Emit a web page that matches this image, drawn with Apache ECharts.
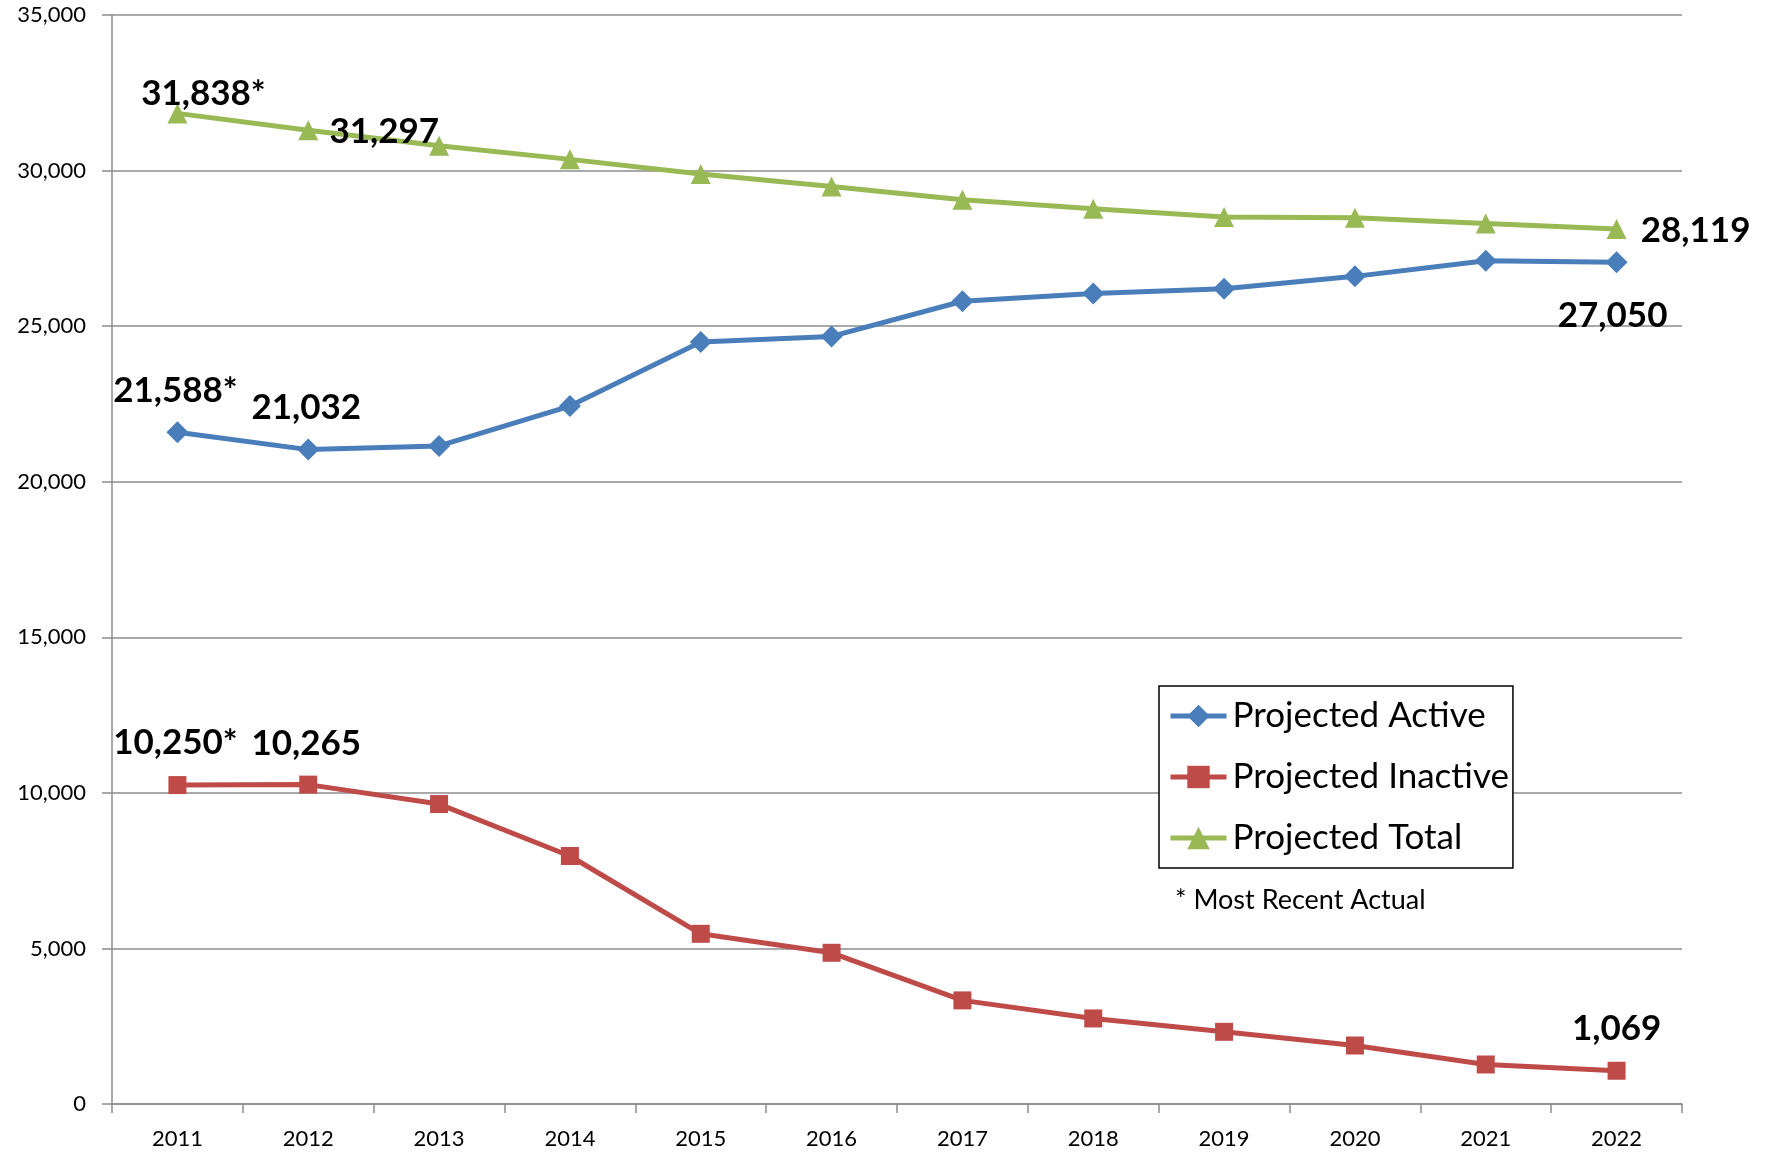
<!DOCTYPE html>
<html>
<head>
<meta charset="utf-8">
<script src="https://cdn.jsdelivr.net/npm/echarts@6/dist/echarts.min.js"></script>
<style>
html,body{margin:0;padding:0;background:#fff;}
#chart{width:1766px;height:1156px;}
</style>
</head>
<body>
<div id="chart"></div>
<script>
const years = ['2011','2012','2013','2014','2015','2016','2017','2018','2019','2020','2021','2022'];
const activeValues = [21588, 21032, 21150, 22430, 24490, 24670, 25800, 26050, 26200, 26600, 27100, 27050];
const inactiveValues = [10250, 10265, 9640, 7970, 5470, 4860, 3330, 2750, 2320, 1880, 1270, 1069];
const totalValues = [31838, 31297, 30800, 30360, 29890, 29490, 29060, 28770, 28510, 28480, 28300, 28119];
const yTicks = [0, 5000, 10000, 15000, 20000, 25000, 30000, 35000];
const footnote = '* Most Recent Actual';

// labelled points: index -> [text, offset]
const activeLabels = {0: ['21,588*', [-2, -42]], 1: ['21,032', [-2, -42]], 11: ['27,050', [-4, 53]]};
const inactiveLabels = {0: ['10,250*', [-2, -42]], 1: ['10,265', [-2, -41]], 11: ['1,069', [0, -42]]};
const totalLabels = {0: ['31,838*', [26, -20]], 1: ['31,297', [76, 2]], 11: ['28,119', [79, 2]]};

const labelFont = {fontFamily: 'Lato', fontWeight: 'bold', fontSize: 35, color: '#000'};

function build(values, labels) {
  return values.map((v, i) => {
    if (labels[i]) {
      const txt = labels[i][0];
      return {value: v, label: Object.assign({show: true, position: 'inside', offset: labels[i][1], formatter: () => txt}, labelFont)};
    }
    return {value: v};
  });
}

const chart = echarts.init(document.getElementById('chart'));
chart.setOption({
  animation: false,
  backgroundColor: '#fff',
  grid: {left: 112, right: 84, top: 15, bottom: 52, containLabel: false},
  xAxis: {
    type: 'category',
    data: years,
    boundaryGap: true,
    axisLine: {lineStyle: {color: '#8c8c8c', width: 1.5}},
    axisTick: {show: true, length: 9, lineStyle: {color: '#8c8c8c', width: 1.5}},
    axisLabel: {fontFamily: 'Lato', fontSize: 22, color: '#000', margin: 24}
  },
  yAxis: {
    type: 'value',
    min: yTicks[0],
    max: yTicks[yTicks.length - 1],
    interval: 5000,
    axisLine: {show: true, lineStyle: {color: '#8c8c8c', width: 1.5}},
    axisTick: {show: true, length: 10, lineStyle: {color: '#8c8c8c', width: 1.5}},
    splitLine: {lineStyle: {color: '#8c8c8c', width: 1.5}},
    axisLabel: {fontFamily: 'Lato', fontSize: 22, color: '#000', margin: 26,
      formatter: v => v.toLocaleString('en-US')}
  },
  legend: {
    orient: 'vertical',
    left: 1159,
    top: 686,
    padding: [10, 4, 10, 9],
    borderColor: '#000',
    borderWidth: 1.5,
    backgroundColor: '#fff',
    itemWidth: 56,
    itemHeight: 28,
    itemGap: 21,
    lineStyle: {width: 5},
    textStyle: {fontFamily: 'Lato', fontSize: 35, color: '#000', lineHeight: 40, padding: [0, 0, 0, 1]},
    data: ['Projected Active', 'Projected Inactive', 'Projected Total']
  },
  graphic: [{
    type: 'text', left: 1175, top: 887,
    style: {text: footnote, font: '27px Lato', fill: '#000'}
  }],
  series: [
    {
      name: 'Projected Active', type: 'line', data: build(activeValues, activeLabels),
      symbol: 'diamond', symbolSize: 22,
      lineStyle: {color: '#4a7ebb', width: 5},
      itemStyle: {color: '#4a7ebb'}, z: 3
    },
    {
      name: 'Projected Inactive', type: 'line', data: build(inactiveValues, inactiveLabels),
      symbol: 'rect', symbolSize: 18,
      lineStyle: {color: '#be4b48', width: 5},
      itemStyle: {color: '#be4b48'}, z: 3
    },
    {
      name: 'Projected Total', type: 'line', data: build(totalValues, totalLabels),
      symbol: 'triangle', symbolSize: 20,
      lineStyle: {color: '#98b954', width: 5},
      itemStyle: {color: '#98b954'}, z: 3
    }
  ]
});
</script>
</body>
</html>
